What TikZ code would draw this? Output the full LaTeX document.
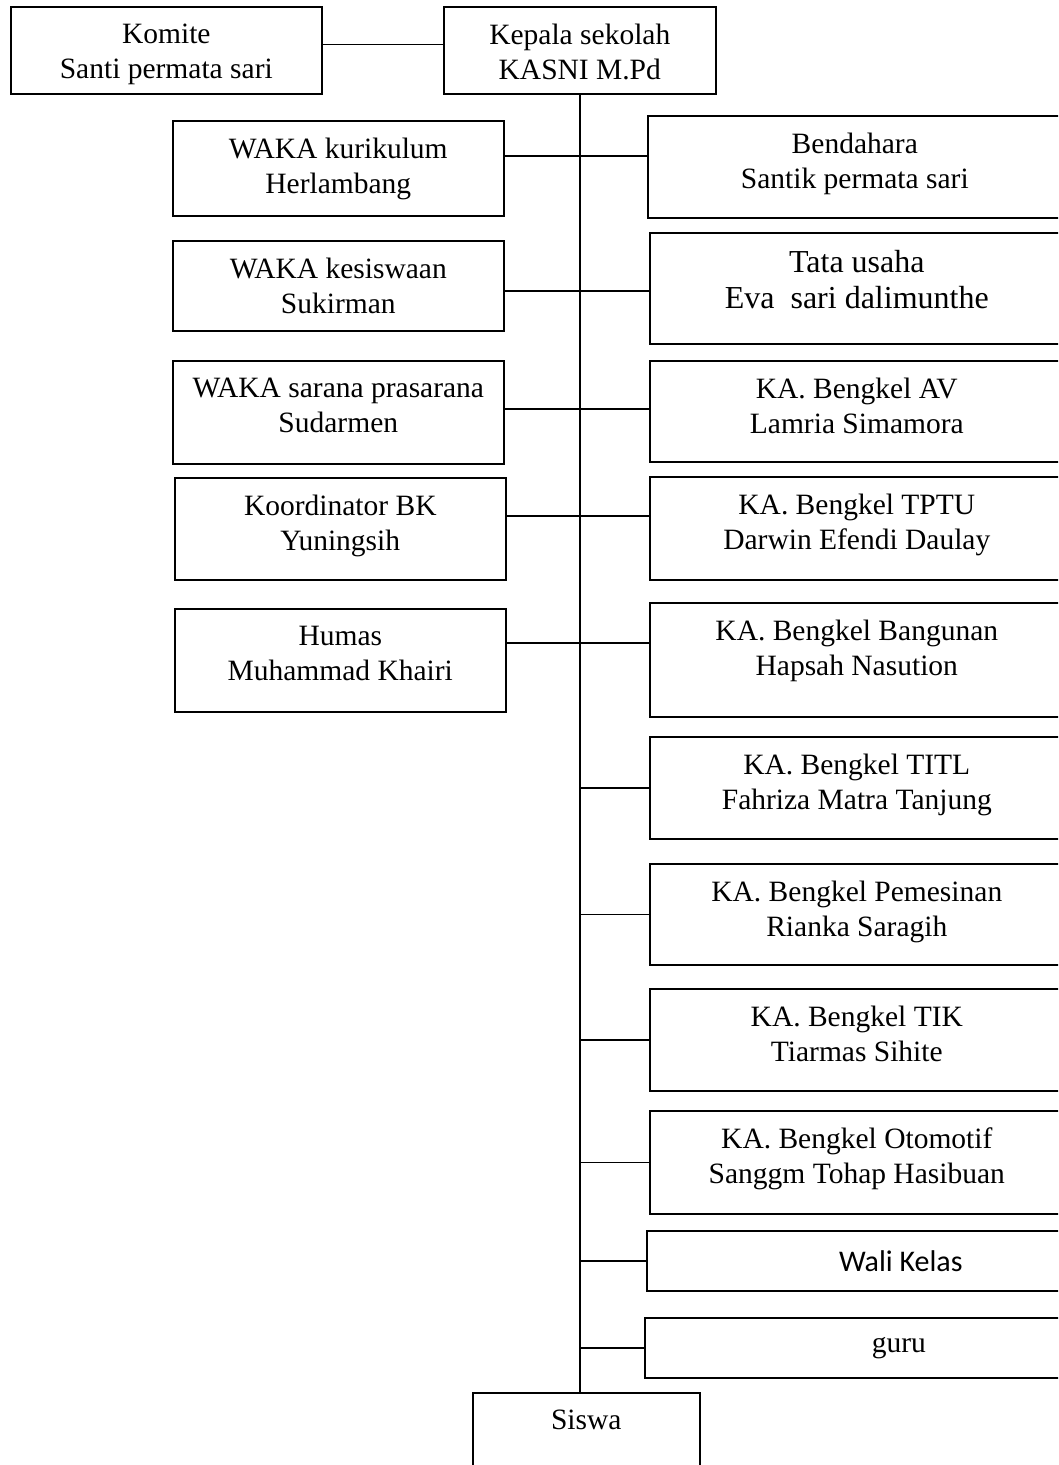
\documentclass[tikz,border=0pt]{standalone}
\usepackage{fontspec}
\setmainfont{Liberation Serif}
\newfontfamily\calibri{Carlito}
\usepackage{tikz}
\usetikzlibrary{calc}

\begin{document}
\begin{tikzpicture} [
       x=1pt, y=-1pt,
       box/.style 2 args={draw, line width=1.6pt, anchor=north west,
               inner sep=0pt, font=\fontsize{29.5}{35}\selectfont,
               execute at begin node={\begin{minipage}[c][#2][t]{#1}\centering\vspace*{17pt}},
               execute at end node={\end{minipage}}},
       sbox/.style 2 args={draw, line width=1.6pt, anchor=north west,
               inner sep=0pt, font=\fontsize{29.5}{35}\selectfont,
               minimum width=#1, minimum height=#2},
       line/.style     = { draw, line width=1.6pt },
       ]
       \useasboundingbox (0,0) rectangle (1058,1465);
       \clip (0,0) rectangle (1058,1465);
       \node (kom) [box={311pt}{87pt}] at (10,6) {Komite\\Santi permata sari};
       \node (kep) [box={272pt}{87pt}] at (443,6) {Kepala sekolah\\KASNI M.Pd};
       \node (wkur) [box={331pt}{95pt}] at (172,120) {WAKA kurikulum\\Herlambang};
       \node (wkes) [box={331pt}{90pt}] at (172,240) {WAKA kesiswaan\\Sukirman};
       \node (wsar) [box={331pt}{103pt}] at (172,360) {WAKA sarana prasarana\\Sudarmen};
       \node (kbk) [box={331pt}{102pt}] at (174,477) {Koordinator BK\\Yuningsih};
       \node (hum) [box={331pt}{103pt}] at (174,608) {Humas\\Muhammad Khairi};
       \node (bend) [box={414pt}{102pt}] at (647,115) {Bendahara\\Santik permata sari};
       \node (tu) [box={414pt}{111pt}, font=\fontsize{32}{36}\selectfont] at (649,232) {Tata usaha\\Eva\ \ sari dalimunthe};
       \node (bav) [box={414pt}{101pt}] at (649,360) {KA. Bengkel AV\\Lamria Simamora};
       \node (btptu) [box={414pt}{103pt}] at (649,476) {KA. Bengkel TPTU\\Darwin Efendi Daulay};
       \node (bbang) [box={414pt}{114pt}] at (649,602) {KA. Bengkel Bangunan\\Hapsah Nasution};
       \node (btitl) [box={414pt}{102pt}] at (649,736) {KA. Bengkel TITL\\Fahriza Matra Tanjung};
       \node (bpem) [box={414pt}{101pt}] at (649,863) {KA. Bengkel Pemesinan\\Rianka Saragih};
       \node (btik) [box={414pt}{102pt}] at (649,988) {KA. Bengkel TIK\\Tiarmas Sihite};
       \node (boto) [box={414pt}{103pt}] at (649,1110) {KA. Bengkel Otomotif\\Sanggm Tohap Hasibuan};
       \node (wali) [sbox={508pt}{60pt}, font=\calibri\fontsize{30}{35}\selectfont] at (646,1230) {Wali Kelas};
       \node (guru) [sbox={508pt}{60pt}] at (644,1317) {guru};
       \node (sis) [box={227pt}{100pt}] at (472,1392) {Siswa};
        \begin{scope}[every path/.style=line]
        \path ([yshift=6pt]kom.east) -- ([yshift=6pt]kep.west);
        \path (kep.south) -- (kep.south |- sis.north);
        \path ([yshift=12.5pt]wkur.east) -- ([yshift=11pt]bend.west);
        \path ([yshift=-5pt]wkes.east) -- ([yshift=-2.5pt]tu.west);
        \path ([yshift=3.5pt]wsar.east) -- ([yshift=2.5pt]bav.west);
        \path ([yshift=13pt]kbk.east) -- ([yshift=12.5pt]btptu.west);
        \path ([yshift=17.5pt]hum.east) -- ([yshift=17pt]bbang.west);
        \foreach \n in {btitl,bpem,btik,boto,wali,guru}
            \path (\n.west) -- (\n.west -| kep.south);
\end{scope}
\end{tikzpicture}
\end{document}
